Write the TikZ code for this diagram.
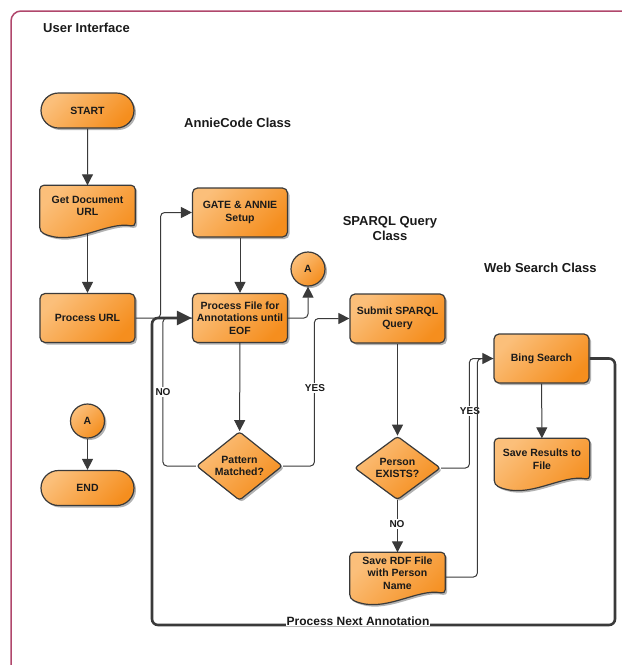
\documentclass[tikz,border=0pt]{standalone}
\usepackage{fontspec}
\setmainfont{Liberation Sans}
\usetikzlibrary{arrows.meta,shapes.geometric,shapes.misc,shadows,calc,backgrounds}
\definecolor{oL}{HTML}{FBBF7A}
\definecolor{oD}{HTML}{F58E1E}
\definecolor{edgec}{HTML}{3A3A3A}
\definecolor{framec}{HTML}{B0476C}
\definecolor{txt}{HTML}{1A1A1A}
\tikzset{
 shadowed/.style={drop shadow={shadow xshift=2pt,shadow yshift=-2pt,opacity=0.3,fill=black}},
 shapebase/.style={draw=edgec, line width=1.2pt, top color=oL, bottom color=oD, shading angle=45, shadowed,
   font=\fontsize{10.5}{12.5}\selectfont\bfseries, text=txt, align=center},
 procbox/.style={shapebase, rectangle, rounded corners=5pt, minimum width=95pt, minimum height=49pt, inner sep=1pt},
 termbox/.style={shapebase, rounded rectangle, minimum width=95pt, minimum height=35pt, inner sep=1pt},
 decbox/.style={shapebase, diamond, minimum width=86pt, minimum height=60pt, inner sep=0pt, rounded corners=3pt},
 conbox/.style={shapebase, circle, minimum size=34pt, inner sep=0pt},
 doctext/.style={rectangle, minimum width=95pt, minimum height=41pt, inner sep=1pt,
   font=\fontsize{10.5}{12.5}\selectfont\bfseries, text=txt, align=center},
 docbox/.style={draw=edgec, line width=1.2pt, top color=oL, bottom color=oD, shading angle=45, shadowed, rounded corners=4pt},
 conn/.style={draw=edgec, line width=1pt, rounded corners=4pt, -{Triangle[length=11pt,width=11pt]}},
 plainconn/.style={draw=edgec, line width=1pt, rounded corners=4pt},
 thickconn/.style={draw=edgec, line width=2.6pt, rounded corners=6pt, -{Triangle[length=15pt,width=14pt]}},
 title/.style={font=\fontsize{13}{15.5}\selectfont\bfseries, text=txt, inner sep=0pt},
 lbl/.style={font=\fontsize{10}{12}\selectfont\bfseries, fill=white, inner sep=1pt, text=txt},
}
\newcommand\docoutline[1]{%
 \path[docbox] (#1.north west) -- (#1.north east) -- (#1.south east)
   .. controls ($(#1.south east)+(-28,-6)$) and ($(#1.south west)+(33,21)$) .. ($(#1.south west)+(0,5)$) -- cycle;}
\begin{document}
\begin{tikzpicture}[x=1pt,y=-1pt]
\useasboundingbox (0,0) rectangle (622,665);
\clip (0,0) rectangle (622,665);
\draw[framec, line width=1.5pt, rounded corners=10pt] (11,700) -- (11,11) -- (700,11);

% titles
\node[title, anchor=west] (tui) at (43,28) {User Interface};
\node[title, anchor=west] (tac) at (184,123) {AnnieCode Class};
\node[title, align=center] (tsq) at (390,228.5) {SPARQL Query\\Class};
\node[title, anchor=west] (tws) at (484,268) {Web Search Class};

% nodes
\node[termbox] (start) at (87.5,110.5) {START};
\node[doctext] (getdoc) at (87.5,206) {Get Document\\URL};
\node[procbox] (procurl) at (87.5,318) {Process URL};
\node[conbox] (aL) at (87.5,421) {A};
\node[termbox] (endn) at (87.5,488) {END};

\node[procbox] (gate) at (240,212.5) {GATE \& ANNIE\\Setup};
\node[procbox] (procfile) at (240,318) {Process File for\\Annotations until\\EOF};
\node[conbox] (aR) at (308,269) {A};
\node[decbox] (pattern) at (239.5,466) {Pattern\\Matched?};

\node[procbox] (submit) at (397.5,318.5) {Submit SPARQL\\Query};
\node[decbox] (person) at (397.5,468) {Person\\EXISTS?};
\node[doctext] (rdf) at (397.5,573) {Save RDF File\\with Person\\Name};

\node[procbox] (bing) at (541.5,358.5) {Bing Search};
\node[doctext] (results) at (542,459) {Save Results to\\File};

\begin{pgfonlayer}{background}
\docoutline{getdoc}
\docoutline{rdf}
\docoutline{results}
\end{pgfonlayer}

% connectors
\draw[conn] (start) -- (getdoc);
\draw[conn] ([yshift=-6pt]getdoc.south) -- (procurl.north);
\draw[conn] (procurl.east) -- ++(25,0) |- (gate.west);
\draw[conn] (aL) -- (endn);
\draw[conn] (gate) -- (procfile);
\draw[conn] (procfile.east) -| (aR.south);
\draw[conn] (procfile) -- (pattern);
\draw[plainconn] (pattern.west) -| ($(procfile.west)+(-29,0)$) -- (procfile.west);
\node[lbl] (nolbl) at (163,392) {NO};
\draw[conn] (pattern.east) -| ($(submit.west)+(-35,0)$) -- (submit.west);
\node[lbl] (yes1) at (315,388) {YES};
\draw[conn] (submit) -- (person);
\draw[conn] (person.east) -| ($(bing.west)+(-24,0)$) -- (bing.west);
\node[lbl] (yes2) at (470,411) {YES};
\draw[conn] (person) -- (rdf.north);
\node[lbl] (no2) at (397,524) {NO};
\draw[plainconn] ($(rdf.east)+(0,4)$) -| ($(bing.west)+(-16,0)$) -- (bing.west);
\draw[conn] (bing) -- (results);

\coordinate (loopR) at (615,625);
\coordinate (loopL) at (152,625);
\draw[thickconn] (bing.east) -| (loopR) -- (loopL) |- (procfile.west);
\node[font=\fontsize{12}{14}\selectfont\bfseries, fill=white, inner sep=0.5pt, text=txt] (pna) at (358,621) {Process Next Annotation};
\end{tikzpicture}
\end{document}
